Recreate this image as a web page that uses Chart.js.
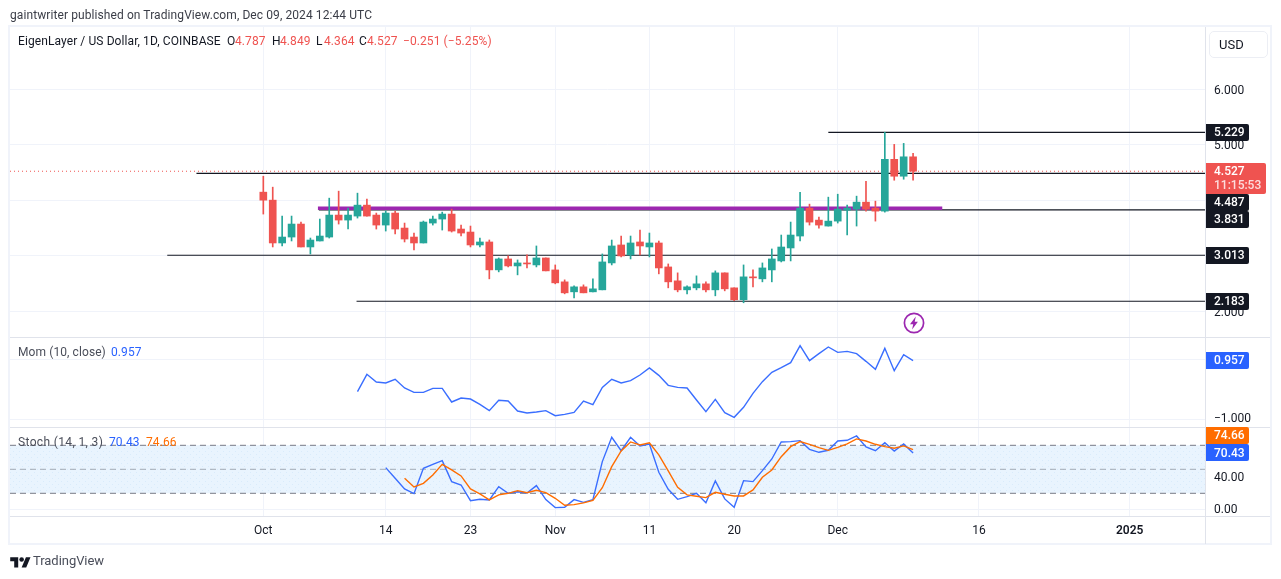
<!DOCTYPE html>
<html><head><meta charset="utf-8">
<script src="https://cdn.jsdelivr.net/npm/chart.js@4"></script>
<style>
html,body{margin:0;padding:0;background:#fff;overflow:hidden}
#wrap{position:relative;width:1281px;height:579px;font-family:Roboto,sans-serif;font-size:12px;color:#131722}
canvas{position:absolute;left:0;top:0}
.t{position:absolute;white-space:nowrap;line-height:16px;letter-spacing:.09px}
.r{color:#ef5350}.b{color:#2962ff}.o{color:#ff6d00}.g{color:#4a4e5a}
</style></head><body>
<div id="wrap">
<canvas id="c" width="1281" height="579"></canvas>
<div class="t" id="pub" style="left:10px;top:7px;color:#3a3d47">gaintwriter published on TradingView.com, Dec 09, 2024 12:44 UTC</div>
<div class="t" style="left:18px;top:33px">EigenLayer / US Dollar, 1D, COINBASE</div>
<div class="t" style="left:227px;top:33px">O</div><div class="t r" style="left:235px;top:33px">4.787</div>
<div class="t" style="left:272px;top:33px">H</div><div class="t r" style="left:280px;top:33px">4.849</div>
<div class="t" style="left:316px;top:33px">L</div><div class="t r" style="left:324px;top:33px">4.364</div>
<div class="t" style="left:359px;top:33px">C</div><div class="t r" style="left:367px;top:33px">4.527</div>
<div class="t r" style="left:403px;top:33px">−0.251 (−5.25%)</div>
<div class="t g" style="left:18px;top:344px">Mom (10, close)</div><div class="t b" style="left:111px;top:344px">0.957</div>
<div class="t g" style="left:18px;top:434px;letter-spacing:.35px">Stoch (14, 1, 3)</div><div class="t b" style="left:109px;top:434px">70.43</div><div class="t o" style="left:146px;top:434px">74.66</div>
<div style="position:absolute;left:1209px;top:31px;width:48px;height:25px;padding-left:9px;border:1px solid #eceef4;border-radius:5px;line-height:25px;font-size:13px;box-sizing:content-box">USD</div>
<svg style="position:absolute;left:903px;top:312px" width="22" height="22" viewBox="0 0 22 22"><circle cx="11" cy="11" r="9.6" fill="#fff" stroke="#9c27b0" stroke-width="1.7"/><path d="M12.8 4.6 7 12.2h3.2l-1.1 5.2 5.8-7.6h-3.2z" fill="#9c27b0"/></svg>
<svg style="position:absolute;left:10px;top:555px" width="21" height="16" viewBox="0 0 36 28"><path d="M14 22H7V11H0V4h14v18zM28 22h-8l7.5-18h8L28 22z" fill="#131722"/><circle cx="20" cy="8" r="4" fill="#131722"/></svg>
<div class="t" style="left:33px;top:553px;font-size:13px;letter-spacing:-.05px;color:#4a4e5a">TradingView</div>
</div>
<script>
const tickDays=[0,13,22,31,41,50,61,76,92];
const tickLabels=['Oct','14','23','Nov','11','20','Dec','16','2025'];
const priceTicks=[2,3,4,5,6];
const momTicks=[-1,1];
const stochTicks=[0,40];
const candleStartDay=0;
const candleOpen=[4.150,4.006,3.234,3.341,3.575,3.162,3.270,3.341,3.737,3.647,3.719,3.916,3.737,3.557,3.773,3.503,3.341,3.234,3.593,3.665,3.755,3.485,3.431,3.198,3.252,2.749,2.946,2.820,2.874,2.838,2.964,2.748,2.533,2.353,2.443,2.353,2.389,2.874,3.198,3.018,3.252,3.162,3.234,2.802,2.551,2.389,2.425,2.497,2.389,2.695,2.425,2.210,2.623,2.587,2.748,2.910,3.144,3.359,3.862,3.646,3.539,3.628,3.826,3.844,3.970,3.862,3.808,4.742,4.437,4.787];
const candleHigh=[4.437,4.240,3.719,3.719,3.611,3.323,3.665,4.042,4.168,3.862,4.132,4.024,3.773,3.809,3.809,3.593,3.413,3.629,3.719,3.790,3.844,3.557,3.539,3.323,3.288,2.964,3.000,2.928,3.018,3.180,2.964,2.838,2.569,2.461,2.479,2.587,3.036,3.287,3.359,3.359,3.467,3.413,3.269,2.856,2.695,2.461,2.641,2.533,2.731,2.695,2.425,2.838,2.748,2.874,3.126,3.377,3.611,4.149,3.934,3.700,4.060,4.113,3.916,4.078,4.347,3.988,5.229,5.011,5.029,4.849];
const candleLow=[3.755,3.162,3.180,3.270,3.162,3.036,3.270,3.323,3.575,3.485,3.683,3.719,3.485,3.449,3.395,3.252,3.108,3.234,3.557,3.467,3.431,3.359,3.162,3.162,2.587,2.713,2.802,2.659,2.784,2.802,2.731,2.497,2.317,2.245,2.335,2.353,2.389,2.838,2.982,2.946,3.018,2.982,2.677,2.425,2.353,2.317,2.389,2.353,2.281,2.371,2.192,2.156,2.443,2.533,2.533,2.892,2.910,3.269,3.557,3.503,3.539,3.593,3.377,3.539,3.808,3.628,3.790,4.365,4.383,4.364];
const candleClose=[4.006,3.234,3.341,3.575,3.162,3.287,3.359,3.737,3.647,3.737,3.916,3.719,3.557,3.773,3.485,3.305,3.234,3.611,3.665,3.755,3.449,3.413,3.198,3.252,2.749,2.946,2.820,2.874,2.856,2.964,2.731,2.515,2.335,2.443,2.335,2.407,2.892,3.180,3.000,3.234,3.180,3.234,2.784,2.533,2.389,2.443,2.497,2.389,2.695,2.407,2.210,2.623,2.605,2.784,2.946,3.161,3.377,3.862,3.610,3.557,3.628,3.844,3.862,3.970,3.844,3.808,4.742,4.437,4.787,4.527];
const momStartDay=10;
const momValues=[-0.079,0.499,0.243,0.21,0.332,0.043,-0.101,-0.101,0.032,0.032,-0.424,-0.29,-0.324,-0.5,-0.712,-0.368,-0.39,-0.724,-0.79,-0.757,-0.712,-0.879,-0.835,-0.768,-0.39,-0.513,0.065,0.332,0.21,0.288,0.476,0.71,0.465,0.132,0.065,0.043,-0.357,-0.746,-0.335,-0.779,-0.935,-0.601,-0.135,0.254,0.565,0.721,0.888,1.454,0.954,1.187,1.41,1.232,1.265,1.187,0.932,0.665,1.365,0.621,1.154,0.957];
const stochKStartDay=13;
const stochK=[52.1,38.75,25.4,19.6,51.25,56.25,60.8,34.6,30.4,10.8,12.5,11.7,28.3,20,22,20.4,29.6,12.1,2.1,2.5,12.1,8.75,12.1,59.6,90,73.3,90,79.2,81.5,46.25,25,12.5,15.8,20,8.3,35.4,13,2.5,35.8,34.6,48.3,62.9,84.2,84.6,85.8,75,71.25,73.75,85.4,86.25,91.7,78,73.3,83.3,72.9,81.7,70.43];
const stochDStartDay=15;
const stochD=[38.75,28,32.5,42.9,56.25,49.2,41.7,25.4,19.2,11.7,18,20,23.3,20.8,23.75,20.8,13.75,5,5.8,8,11.25,27,53.3,73,84.2,80.4,83,68,48,27.5,18,16.25,14.6,21.25,18.75,16.7,16.7,24.2,40,49.2,65.8,78.3,84.6,81.25,77,73.75,77.5,81.7,88,85.4,81.25,78.3,76.25,79.2,74.66];
const levelValues=[5.229,4.487,3.831,3.013,2.183];
const levelStartDays=[60,-7.1,5.9,-10.2,9.9];
const zoneValue=3.86, zoneStartDay=5.8, zoneEndDay=72.1;
const stochBands=[80,50,20];

const GREEN='#26a69a',RED='#ef5350',INK='#131722',BLUE='#2962ff',ORANGE='#ff6d00';
const X_MIN=-26.9,X_MAX=100;
const up=i=>candleClose[i]>=candleOpen[i];
const candleColor=c=>up(c.dataIndex)?GREEN:RED;
const hline=(y,x0,x1,extra)=>Object.assign({type:'line',yAxisID:'yP',data:[{x:x0,y},{x:x1,y}],pointRadius:0,borderWidth:1.2,borderColor:INK,fill:false,tension:0},extra);

const pc=document.createElement('canvas');pc.width=pc.height=6;
const px=pc.getContext('2d');px.fillStyle='#e9f4fe';px.fillRect(0,0,6,6);px.fillStyle='#d9ebfb';px.fillRect(1,1,1,1);px.fillRect(4,4,1,1);
const bandFill=document.getElementById('c').getContext('2d').createPattern(pc,'repeat');

const datasets=[];
datasets.push({type:'line',yAxisID:'yS',data:[{x:X_MIN,y:stochBands[0]},{x:X_MAX,y:stochBands[0]}],pointRadius:0,borderWidth:0,fill:{value:stochBands[2]},backgroundColor:bandFill,order:20});
datasets.push({type:'line',yAxisID:'yS',data:[{x:X_MIN,y:stochBands[0]},{x:X_MAX,y:stochBands[0]}],pointRadius:0,borderWidth:1,borderColor:'#787b86',borderDash:[6,4],order:10});
datasets.push({type:'line',yAxisID:'yS',data:[{x:X_MIN,y:stochBands[1]},{x:X_MAX,y:stochBands[1]}],pointRadius:0,borderWidth:1,borderColor:'rgba(120,123,134,.6)',borderDash:[6,4],order:10});
datasets.push({type:'line',yAxisID:'yS',data:[{x:X_MIN,y:stochBands[2]},{x:X_MAX,y:stochBands[2]}],pointRadius:0,borderWidth:1,borderColor:'#787b86',borderDash:[6,4],order:10});
levelValues.forEach((v,i)=>datasets.push(hline(v,levelStartDays[i],X_MAX,{order:8})));
datasets.push(hline(zoneValue,zoneStartDay,zoneEndDay,{borderWidth:3.3,borderColor:'#9c27b0',order:7}));
datasets.push(hline(candleClose[candleClose.length-1],X_MIN,X_MAX,{borderWidth:1,borderColor:RED,borderDash:[1,3],order:6}));
datasets.push({type:'bar',yAxisID:'yP',data:candleLow.map((l,i)=>({x:candleStartDay+i,y:[l,candleHigh[i]]})),backgroundColor:candleColor,barThickness:1,order:5,grouped:false});
datasets.push({type:'bar',yAxisID:'yP',data:candleOpen.map((o,i)=>({x:candleStartDay+i,y:[o,candleClose[i]]})),backgroundColor:candleColor,barThickness:7,order:4,grouped:false});
const LINE_BLUE='#3a6eff';
datasets.push({type:'line',yAxisID:'yM',data:momValues.map((v,i)=>({x:momStartDay+i,y:v})),borderColor:LINE_BLUE,borderWidth:1.4,pointRadius:0,tension:0,fill:false,order:3});
datasets.push({type:'line',yAxisID:'yS',data:stochK.map((v,i)=>({x:stochKStartDay+i,y:v})),borderColor:LINE_BLUE,borderWidth:1.4,pointRadius:0,tension:0,fill:false,order:2});
datasets.push({type:'line',yAxisID:'yS',data:stochD.map((v,i)=>({x:stochDStartDay+i,y:v})),borderColor:ORANGE,borderWidth:1.4,pointRadius:0,tension:0,fill:false,order:1});

function yScale(min,max,ticks,fmt,stackWeight,weight,textShift){
  return {type:'linear',position:'right',stack:'panes',stackWeight,weight,min,max,
    afterBuildTicks:s=>{s.ticks=ticks.map(value=>({value}));},
    afterFit:s=>{s.width=64;},
    grid:{color:'#f0f3fa',lineWidth:1,drawTicks:false},
    border:{color:'#e0e3eb',display:true},
    ticks:{color:INK,font:{family:'Roboto',size:12,lineHeight:textShift*2/12},padding:9,autoSkip:false,
      callback:v=>['',fmt(v)]}};
}
const tags=[
 {scale:'yP',value:levelValues[0],text:'5.229',color:INK},
 {scale:'yP',value:levelValues[1],text:'4.487',color:INK,nudge:29},
 {scale:'yP',value:levelValues[2],text:'3.831',color:INK,nudge:9.6},
 {scale:'yP',value:levelValues[3],text:'3.013',color:INK},
 {scale:'yP',value:levelValues[4],text:'2.183',color:INK},
 {scale:'yM',value:momValues[momValues.length-1],text:'0.957',color:BLUE},
 {scale:'yS',value:stochD[stochD.length-1],text:'74.66',color:ORANGE,nudge:-14},
 {scale:'yS',value:stochK[stochK.length-1],text:'70.43',color:BLUE}
];
const decor={id:'decor',
 beforeDraw(ch){const c=ch.ctx;c.save();c.fillStyle='#fff';c.fillRect(0,0,1281,579);c.restore();},
 afterDraw(ch){
  const c=ch.ctx,a=ch.chartArea,sc=ch.scales;
  c.save();
  c.strokeStyle='#f0f3fa';c.lineWidth=2;c.strokeRect(a.left-1,a.top-1,a.right+67-a.left,544-a.top+1);
  c.strokeStyle='#e0e3eb';c.lineWidth=1;
  [sc.yM.top,sc.yS.top,a.bottom].forEach(y=>{c.beginPath();c.moveTo(a.left,Math.round(y)+.5);c.lineTo(a.right+65,Math.round(y)+.5);c.stroke();});
  c.beginPath();c.moveTo(a.right+.5,a.bottom);c.lineTo(a.right+.5,544);c.stroke();
  c.textBaseline='middle';c.font='500 12px Roboto';
  const x0=a.right+1;
  tags.forEach(t=>{
    const y=sc[t.scale].getPixelForValue(t.value)+(t.nudge||0);
    c.fillStyle=t.color;c.beginPath();c.roundRect(x0,Math.round(y-8.5),43,17,[0,2,2,0]);c.fill();
    c.fillStyle='#fff';c.textAlign='left';c.fillText(t.text,a.right+9,y+.8);
  });
  const ly=sc.yP.getPixelForValue(candleClose[candleClose.length-1]);
  c.fillStyle=RED;c.beginPath();c.roundRect(x0,Math.round(ly-8),60,31,[0,2,2,0]);c.fill();
  c.fillStyle='#fff';c.fillText('4.527',a.right+9,ly+1);
  c.fillStyle='rgba(255,255,255,.8)';c.fillText('11:15:53',a.right+9,ly+15);
  c.restore();
 }};
new Chart(document.getElementById('c'),{
 type:'bar',
 data:{datasets},
 plugins:[decor],
 options:{responsive:false,animation:false,devicePixelRatio:1,
  layout:{padding:{left:10,top:27,right:12,bottom:35}},
  plugins:{legend:{display:false},tooltip:{enabled:false},title:{display:false}},
  scales:{
   x:{type:'linear',min:X_MIN,max:X_MAX,offset:false,
     afterBuildTicks:s=>{s.ticks=tickDays.map(value=>({value}));},
     afterFit:s=>{s.height=28;},
     grid:{color:'#f0f3fa',offset:false,drawTicks:false},border:{color:'#e0e3eb'},
     ticks:{color:INK,padding:8,autoSkip:false,maxRotation:0,
       font:c=>({family:'Roboto',size:12,weight:tickLabels[c.index]==='2025'?'600':'400'}),
       callback:(v)=>tickLabels[tickDays.indexOf(v)]}},
   yP:yScale(1.539,7.127,priceTicks,v=>v.toFixed(3),310,1,1.5),
   yM:yScale(-1.24,1.743,momTicks,v=>v.toFixed(3).replace('-','−'),89.5,2,0),
   yS:yScale(-8.375,103.5,stochTicks,v=>v.toFixed(2),89.5,3,1)
  }}
});
</script>
</body></html>
